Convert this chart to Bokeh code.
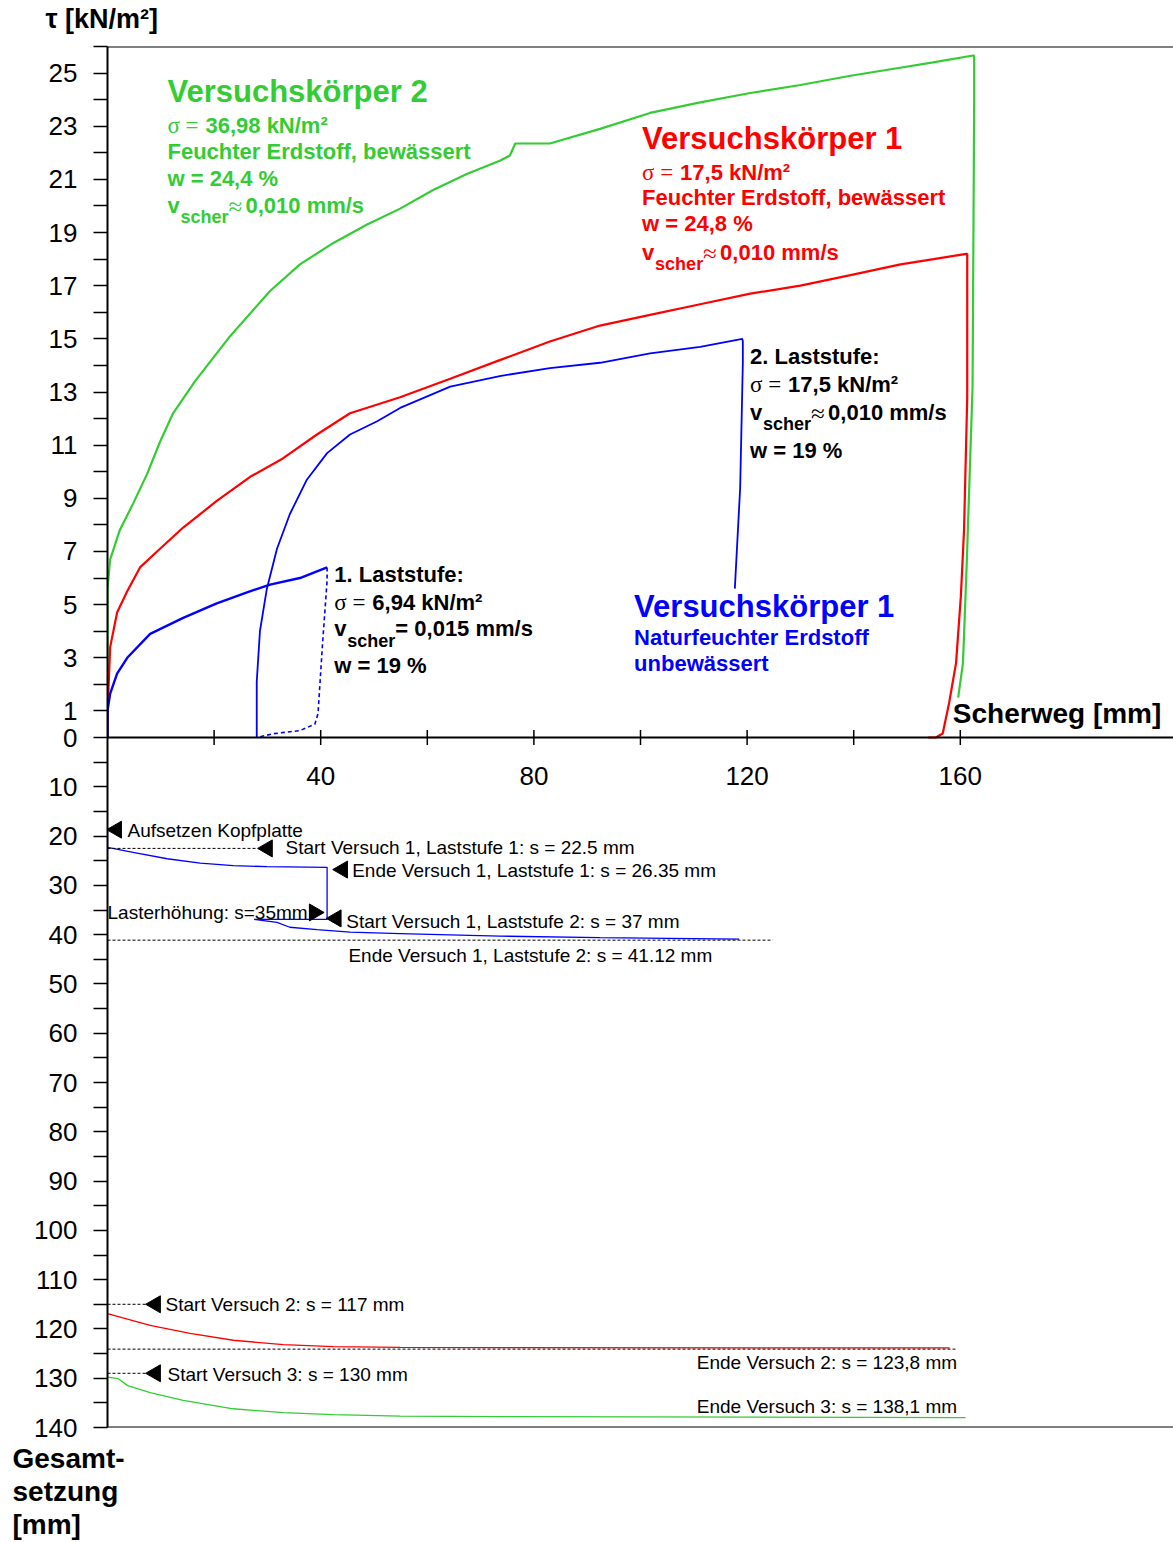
import math
from bokeh.plotting import figure
from bokeh.models import (Range1d, LinearAxis, FixedTicker, CustomJSTickFormatter,
                          Span, Title)
from bokeh.core.properties import value
from bokeh.embed import file_html
from bokeh.resources import INLINE

# ---------------- data ----------------
# top panel: shear stress tau [kN/m²] vs. shear path [mm]
vk2_x = [0, 0, 0.5, 1.0, 2.3, 4.8, 7.4, 9.8, 12.3, 16.4, 23.0, 30.5, 36.1, 42.3, 48.7,
         54.9, 61.1, 67.4, 73.6, 75.5, 76.5, 83.0, 92.4, 101.8, 111.2, 120.6, 130.0,
         139.4, 148.7, 154.9, 162.4, 162.6, 162.6, 162.3, 161.2, 160.5, 159.6]
vk2_tau = [0, 5.6, 6.7, 7.0, 7.8, 8.8, 9.9, 11.1, 12.2, 13.4, 15.1, 16.8, 17.8, 18.6, 19.3,
           19.9, 20.6, 21.2, 21.7, 21.9, 22.35, 22.35, 22.9, 23.5, 23.9, 24.25, 24.55,
           24.9, 25.2, 25.4, 25.66, 25.66, 23.8, 13.2, 6.5, 2.8, 1.5]

vk1_x = [0, 0, 0.5, 1.8, 3.7, 6.1, 9.3, 14.2, 20.5, 26.7, 32.9, 39.3, 45.5, 54.9, 64.3,
         73.6, 83.0, 92.4, 101.8, 111.2, 120.6, 130.0, 139.4, 148.8, 155.0, 161.1,
         161.3, 161.3, 160.7, 160.1, 159.2, 157.9, 156.7, 155.4, 154.0]
vk1_tau = [0, 0.9, 3.4, 4.7, 5.5, 6.4, 7.0, 7.9, 8.9, 9.8, 10.5, 11.4, 12.2, 12.8, 13.5,
           14.2, 14.9, 15.5, 15.9, 16.3, 16.7, 17.0, 17.4, 17.8, 18.0, 18.2,
           18.2, 12.8, 7.8, 5.3, 2.8, 1.3, 0.15, 0, 0]

ls1_x = [0, 0, 0.5, 1.8, 3.7, 8.0, 14.2, 20.5, 26.7, 30.5, 36.1, 41.2]
ls1_tau = [0, 1.0, 1.65, 2.4, 3.0, 3.9, 4.5, 5.05, 5.5, 5.75, 6.0, 6.4]

ls1u_x = [41.2, 41.2, 40.3, 39.5, 38.9, 36.1, 31.0, 28.0]
ls1u_tau = [6.4, 5.9, 3.4, 0.9, 0.5, 0.26, 0.14, 0.0]

ls2_x = [28.0, 28.0, 28.6, 29.9, 31.8, 34.2, 37.4, 41.2, 45.5, 50.6, 54.9, 64.3, 73.6,
         83.0, 92.4, 101.8, 111.2, 119.1, 119.2, 119.2, 118.7, 117.7]
ls2_tau = [0, 2.1, 4.0, 5.6, 7.1, 8.4, 9.7, 10.7, 11.4, 11.9, 12.4, 13.2, 13.6,
           13.9, 14.1, 14.45, 14.7, 15.0, 14.9, 14.1, 9.4, 5.6]

# bottom panel: total settlement [mm] vs. shear path [mm]
setz1_x = [0, 0, 4.8, 11.2, 17.4, 23.6, 29.9, 41.2, 41.2, 27.5, 31.8, 34.2, 39.3, 45.5,
           54.9, 73.6, 92.4, 118.5]
setz1_s = [18.2, 22.3, 23.3, 24.6, 25.5, 26.0, 26.2, 26.35, 36.9, 36.9, 37.5, 38.5, 39.0,
           39.5, 39.8, 40.3, 40.6, 40.9]
setz2_x = [0, 8.0, 15.5, 23.6, 33.0, 42.3, 54.9, 73.6, 158.0]
setz2_s = [116.9, 119.3, 120.9, 122.3, 123.2, 123.6, 123.75, 123.8, 123.85]
setz3_x = [0, 2.0, 3.8, 8.0, 14.2, 23.6, 33.0, 42.3, 54.9, 73.6, 161.0]
setz3_s = [129.8, 130.1, 131.5, 132.9, 134.5, 136.2, 137.0, 137.4, 137.7, 137.8, 138.0]

# dashed reference lines (settlement level, x from, x to)
ref_s = [22.5, 41.12, 115.0, 124.1, 129.0]
ref_x0 = [0, 0, 0, 0, 0]
ref_x1 = [28.1, 124.8, 7.6, 159.4, 7.6]

# arrow heads
arr_x = [1.7, 30.0, 44.1, 42.9, 9.0, 9.0]
arr_s = [18.7, 22.5, 26.8, 36.7, 115.0, 129.0]
arr_r_x = [38.8]
arr_r_s = [35.5]

# axis ticks / labels
tau_ticks = list(range(0, 27))
tau_tick_labels = [0] + list(range(1, 26, 2))
set_ticks = list(range(5, 141, 5))
set_tick_labels = list(range(10, 141, 10))
x_ticks = [20, 40, 60, 80, 100, 120, 140, 160]
x_tick_labels = [40, 80, 120, 160]

GREEN = "#33cc33"
RED = "#ff0000"
BLUE = "#0000ff"
SANS = "Liberation Sans"
SERIF = "Liberation Serif"

# ---------------- layout ----------------
W, H = 1173, 1542
LEFT, TOP, BOTTOM = 107, 46, 115
H_TAU, H_SET = 691, 690
TAU_TOP, SET_BOT = 26.0, 140.0
tau_per_mm = (H_SET / SET_BOT) / (H_TAU / TAU_TOP)

p = figure(width=W, height=H, output_backend="svg", toolbar_location=None,
           x_axis_type=None, y_axis_type=None, title=None,
           x_range=Range1d(0, 200),
           y_range=Range1d(-SET_BOT * tau_per_mm, TAU_TOP),
           min_border_left=LEFT, min_border_right=0,
           min_border_top=TOP, min_border_bottom=BOTTOM)
p.extra_y_ranges = {"set": Range1d(SET_BOT, -TAU_TOP / tau_per_mm)}
p.outline_line_color = None
p.background_fill_color = "white"
p.border_fill_color = "white"


def title(text, size, offset, side):
    p.add_layout(Title(text=text, align="left", offset=offset, text_font=SANS,
                       text_font_size=f"{size}px", text_font_style="bold",
                       text_color="black", standoff=0), side)


# spacer (closest to frame) then axis titles
title(" ", 10, 0, "above")
title("τ [kN/m²]", 27, -62, "above")
title(" ", 10, 0, "below")
for t in ["Gesamt-", "setzung", "[mm]"]:
    title(t, 28, -95, "below")

fmt = CustomJSTickFormatter(args=dict(k=tau_per_mm, tl=tau_tick_labels, sl=set_tick_labels), code="""
if (tick > -1e-6) { const v = Math.round(tick); return tl.includes(v) ? String(v) : ""; }
const s = Math.round(-tick / k); return sl.includes(s) ? String(s) : "";
""")
ax = LinearAxis(ticker=FixedTicker(ticks=tau_ticks + [-s * tau_per_mm for s in set_ticks]),
                formatter=fmt)
ax.axis_line_width = 2
ax.axis_line_color = "black"
ax.major_tick_line_width = 1.5
ax.major_tick_line_color = "black"
ax.major_tick_out = 14
ax.major_tick_in = 0
ax.minor_tick_line_color = None
ax.major_label_text_font = SANS
ax.major_label_text_font_size = "26px"
ax.major_label_text_color = "black"
ax.major_label_standoff = 16
p.add_layout(ax, "left")

# frame lines and x axis
p.add_layout(Span(location=TAU_TOP, dimension="width", line_color="black", line_width=2))
p.add_layout(Span(location=0, dimension="width", line_color="black", line_width=2))
p.add_layout(Span(location=SET_BOT, dimension="width", line_color="black", line_width=2,
                  y_range_name="set"))
p.scatter(x=x_ticks, y=[0] * len(x_ticks), marker="dash", angle=math.pi / 2, size=15,
          line_color="black", line_width=1.5)
p.text(x=x_tick_labels, y=[0] * len(x_tick_labels), text=[str(v) for v in x_tick_labels],
       y_offset=38, text_align="center", text_baseline="middle", text_color="black",
       text_font=value(SANS), text_font_size="26px")

# curves, top panel
p.line(vk2_x, vk2_tau, line_color=GREEN, line_width=2.2)
p.line(vk1_x, vk1_tau, line_color=RED, line_width=2.2)
p.line(ls1_x, ls1_tau, line_color=BLUE, line_width=2.4)
p.line(ls1u_x, ls1u_tau, line_color=BLUE, line_width=1.6, line_dash="4 3")
p.line(ls2_x, ls2_tau, line_color=BLUE, line_width=1.8)

# curves, bottom panel
p.line(setz1_x, setz1_s, line_color=BLUE, line_width=1.3, y_range_name="set")
p.line(setz2_x, setz2_s, line_color=RED, line_width=1.3, y_range_name="set")
p.line(setz3_x, setz3_s, line_color=GREEN, line_width=1.3, y_range_name="set")

p.segment(x0=ref_x0, y0=ref_s, x1=ref_x1, y1=ref_s, line_color="black", line_width=1,
          line_dash="3 2", y_range_name="set")

p.scatter(x=arr_x, y=arr_s, marker="triangle", angle=math.pi / 2, size=17,
          fill_color="black", line_color="black", y_range_name="set")
p.scatter(x=arr_r_x, y=arr_r_s, marker="triangle", angle=-math.pi / 2, size=17,
          fill_color="black", line_color="black", y_range_name="set")


def put(x, y, s, color="black", size=22, bold=True, serif=False, align="left",
        xo=0, yo=0, rng="default"):
    p.text(x=[x], y=[y], text=[s], text_color=color,
           text_font=value(SERIF if serif else SANS), text_font_size=f"{size}px",
           text_font_style="bold" if bold else "normal", text_align=align,
           text_baseline="middle", x_offset=xo, y_offset=yo, y_range_name=rng)


def sigma(x, y, val, color, yo):
    put(x, y, "σ =", color, 23, bold=False, serif=True, yo=yo)
    put(x, y, val, color, 22, xo=38, yo=yo)


def vscher(x, y, rest, color, yo, approx=True):
    put(x, y, "v", color, 22, yo=yo)
    put(x, y, "scher", color, 18, xo=13, yo=yo + 12)
    if approx:
        put(x, y, "≈", color, 25, bold=False, serif=True, xo=61, yo=yo + 1)
        put(x, y, rest, color, 22, xo=78, yo=yo)
    else:
        put(x, y, "= " + rest, color, 22, xo=61, yo=yo)


# Versuchskörper 2 (green)
gx, gy = 11.25, 24.31
put(gx, gy, "Versuchskörper 2", GREEN, 31)
sigma(gx, gy, "36,98 kN/m²", GREEN, 34)
put(gx, gy, "Feuchter Erdstoff, bewässert", GREEN, 22, yo=60)
put(gx, gy, "w = 24,4 %", GREEN, 22, yo=87)
vscher(gx, gy, "0,010 mm/s", GREEN, 114)

# Versuchskörper 1 (red)
rx, ry = 100.3, 22.54
put(rx, ry, "Versuchskörper 1", RED, 31)
sigma(rx, ry, "17,5 kN/m²", RED, 34)
put(rx, ry, "Feuchter Erdstoff, bewässert", RED, 22, yo=59)
put(rx, ry, "w = 24,8 %", RED, 22, yo=85)
vscher(rx, ry, "0,010 mm/s", RED, 114)

# Versuchskörper 1 (blue)
bx, by = 98.8, 4.93
put(bx, by, "Versuchskörper 1", BLUE, 31)
put(bx, by, "Naturfeuchter Erdstoff", BLUE, 22, yo=31)
put(bx, by, "unbewässert", BLUE, 22, yo=57)

# 1. Laststufe
l1x, l1y = 42.56, 6.13
put(l1x, l1y, "1. Laststufe:", "black", 22)
sigma(l1x, l1y, "6,94 kN/m²", "black", 28)
vscher(l1x, l1y, "0,015 mm/s", "black", 54, approx=False)
put(l1x, l1y, "w = 19 %", "black", 22, yo=91)

# 2. Laststufe
l2x, l2y = 120.56, 14.34
put(l2x, l2y, "2. Laststufe:", "black", 22)
sigma(l2x, l2y, "17,5 kN/m²", "black", 28)
vscher(l2x, l2y, "0,010 mm/s", "black", 56)
put(l2x, l2y, "w = 19 %", "black", 22, yo=94)

put(158.6, 0.90, "Scherweg [mm]", "black", 28)

# settlement annotations
A = 19
put(3.75, 18.87, "Aufsetzen Kopfplatte", "black", A, bold=False, rng="set")
put(33.4, 22.3, "Start Versuch 1, Laststufe 1: s = 22.5 mm", "black", A, bold=False, rng="set")
put(45.9, 27.0, "Ende Versuch 1, Laststufe 1: s = 26.35 mm", "black", A, bold=False, rng="set")
put(0.0, 35.5, "Lasterhöhung: s=35mm", "black", A, bold=False, rng="set")
put(44.8, 37.3, "Start Versuch 1, Laststufe 2: s = 37 mm", "black", A, bold=False, rng="set")
put(45.2, 44.2, "Ende Versuch 1, Laststufe 2: s = 41.12 mm", "black", A, bold=False, rng="set")
put(10.9, 115.0, "Start Versuch 2: s = 117 mm", "black", A, bold=False, rng="set")
put(159.4, 126.8, "Ende Versuch 2: s = 123,8 mm", "black", A, bold=False, align="right", rng="set")
put(11.25, 129.2, "Start Versuch 3: s = 130 mm", "black", A, bold=False, rng="set")
put(159.4, 135.7, "Ende Versuch 3: s = 138,1 mm", "black", A, bold=False, align="right", rng="set")

open("out.html", "w").write(file_html(p, INLINE))
